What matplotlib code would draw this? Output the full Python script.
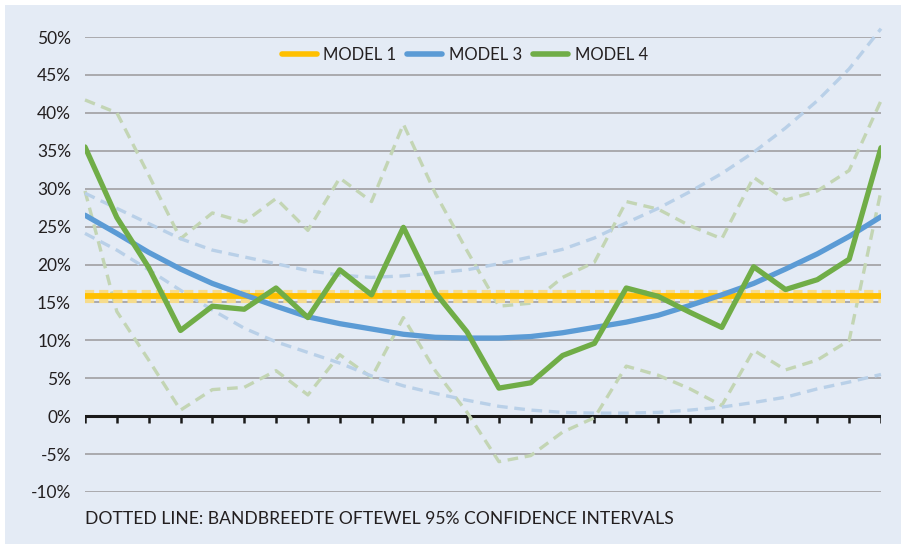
import numpy as np
import matplotlib.pyplot as plt
from matplotlib.patches import Rectangle

plt.rcParams['font.family'] = ['Lato', 'DejaVu Sans']

# Data (percent), 26 points along the x axis
x_points = list(range(26))

model1 = [15.8] * 26
model1_hi = [16.4] * 26
model1_lo = [15.2] * 26

model3 = [26.5, 24.1, 21.6, 19.4, 17.5, 16.0, 14.5, 13.1, 12.2, 11.5, 10.8, 10.4, 10.3,
          10.3, 10.5, 11.0, 11.7, 12.4, 13.3, 14.6, 16.0, 17.5, 19.4, 21.4, 23.7, 26.3]
model3_hi = [29.4, 27.4, 25.4, 23.4, 21.9, 21.0, 20.1, 19.2, 18.6, 18.3, 18.5, 18.9, 19.3,
             20.1, 21.0, 22.0, 23.5, 25.5, 27.4, 29.6, 32.0, 34.8, 38.0, 41.6, 45.8, 51.1]
model3_lo = [24.1, 21.9, 19.3, 16.6, 14.0, 11.6, 9.8, 8.4, 7.0, 5.3, 4.0, 3.0, 2.1,
             1.3, 0.8, 0.5, 0.4, 0.4, 0.5, 0.8, 1.2, 1.8, 2.5, 3.6, 4.5, 5.5]

model4 = [35.5, 26.2, 19.6, 11.3, 14.5, 14.1, 16.9, 13.0, 19.3, 16.0, 24.9, 16.3, 11.1,
          3.7, 4.4, 8.0, 9.6, 16.9, 15.8, 13.7, 11.7, 19.7, 16.7, 18.0, 20.7, 35.4]
model4_hi = [41.7, 40.0, 31.8, 23.4, 26.8, 25.6, 28.7, 24.5, 31.4, 28.3, 38.5, 29.4, 21.8,
             14.5, 14.9, 18.3, 20.3, 28.3, 27.3, 25.1, 23.4, 31.5, 28.5, 29.7, 32.4, 41.6]
model4_lo = [29.7, 13.8, 7.4, 0.8, 3.5, 3.8, 6.0, 2.8, 8.1, 5.1, 13.0, 6.0, 0.5,
             -6.0, -5.2, -2.1, -0.2, 6.6, 5.4, 3.6, 1.4, 8.7, 6.1, 7.4, 10.0, 29.7]

y_ticks = [-10, -5, 0, 5, 10, 15, 20, 25, 30, 35, 40, 45, 50]
footnote = "DOTTED LINE: BANDBREEDTE OFTEWEL 95% CONFIDENCE INTERVALS"

bg = '#e4ebf5'
yellow = '#ffc000'
blue = '#5b9bd5'
green = '#70ad47'
text_col = '#231f20'

fig = plt.figure(figsize=(9.01, 5.44), dpi=100)
fig.patch.set_facecolor('white')
# light panel with a thin white margin top and left
fig.patches.append(Rectangle((5 / 901, 0), 1.2, 1 - 5 / 544, transform=fig.transFigure,
                             facecolor=bg, edgecolor='none', zorder=-10))

ax = fig.add_axes([85 / 901, 52 / 544, 796 / 901, 455 / 544])
ax.set_facecolor('none')

for s in ax.spines.values():
    s.set_visible(False)

ax.set_xlim(0, 25)
ax.set_ylim(-10, 50)

# grid
for v in y_ticks:
    if v != 0:
        ax.axhline(v, color='#a5a5a8', lw=1.3, zorder=1)

# zero axis with downward ticks
ax.axhline(0, color='#1a1a1a', lw=2.2, zorder=2)
ax.vlines(x_points, -0.85, 0, color='#1a1a1a', lw=1.8, zorder=2)

dash = (0, (3.2, 2.0))
ci_kw = dict(lw=2.4, linestyle=dash, clip_on=False, zorder=3)
ax.plot(x_points, model4_hi, color='#c3d5b4', **ci_kw)
ax.plot(x_points, model4_lo, color='#c3d5b4', **ci_kw)
ax.plot(x_points, model3_hi, color='#b9d0e8', **ci_kw)
ax.plot(x_points, model3_lo, color='#b9d0e8', **ci_kw)
ax.plot(x_points, model1_hi, color='#f6dc8c', lw=3.0, linestyle=(0, (2.2, 1.2)), zorder=3)
ax.plot(x_points, model1_lo, color='#f6dc8c', lw=3.0, linestyle=(0, (2.2, 1.2)), zorder=3)

ax.plot(x_points, model1, color=yellow, lw=4.2, solid_capstyle='round', label='MODEL 1', zorder=4)
ax.plot(x_points, model3, color=blue, lw=3.8, solid_capstyle='round', label='MODEL 3', zorder=5)
ax.plot(x_points, model4, color=green, lw=3.8, solid_capstyle='round', label='MODEL 4', zorder=6)

ax.set_xticks([])
ax.set_yticks(y_ticks)
ax.set_yticklabels([f"{v}%" for v in y_ticks], fontsize=12.5, color=text_col)
ax.tick_params(axis='y', length=0, pad=10)

leg = ax.legend(loc='center', bbox_to_anchor=(0.477, 0.960), ncol=3, frameon=False,
                fontsize=12, handlelength=2.1, handletextpad=0.4, columnspacing=0.65,
                labelcolor=text_col)
for h in leg.get_lines():
    h.set_linewidth(4)
    h.set_solid_capstyle('round')

fig.text(85 / 901, 1 - 519 / 544, footnote, fontsize=12.6, color=text_col, va='center', ha='left')

fig.savefig('out.png', dpi=100, facecolor=fig.get_facecolor())
